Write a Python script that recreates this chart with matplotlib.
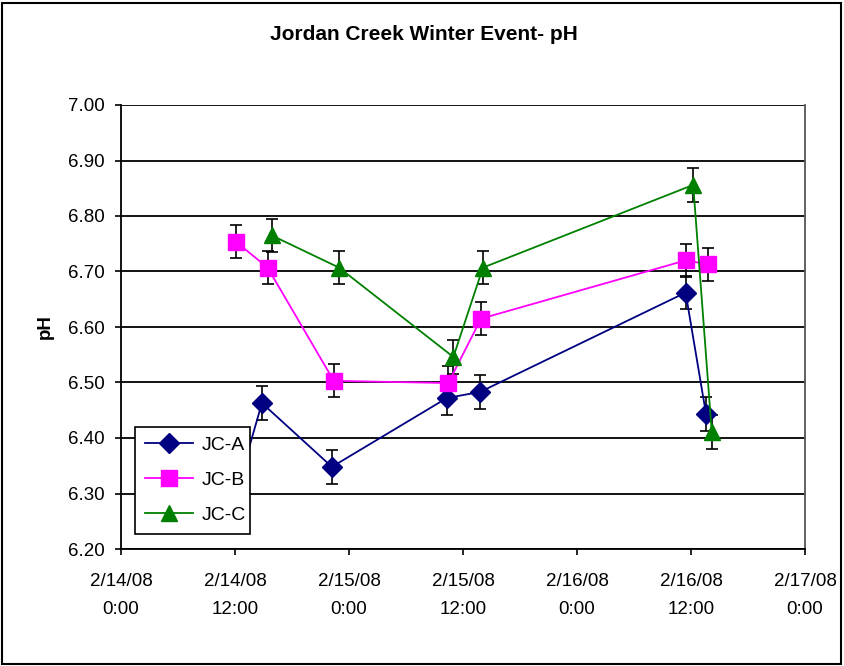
import matplotlib
matplotlib.use("Agg")
import matplotlib.pyplot as plt
import matplotlib.dates as mdates
from matplotlib.patches import Rectangle
from matplotlib.ticker import FuncFormatter, MultipleLocator
import pandas as pd

plt.rcParams['font.family'] = ['Liberation Sans', 'DejaVu Sans']

title = "Jordan Creek Winter Event- pH"
y_label = "pH"

times_a = ["2008-02-14 12:06", "2008-02-14 14:50", "2008-02-14 22:12", "2008-02-15 10:18",
           "2008-02-15 13:48", "2008-02-16 11:26", "2008-02-16 13:35"]
ph_a = [6.30, 6.463, 6.348, 6.472, 6.483, 6.662, 6.443]
err_a = [0.03, 0.03, 0.03, 0.03, 0.03, 0.03, 0.03]

times_b = ["2008-02-14 12:04", "2008-02-14 15:26", "2008-02-14 22:24", "2008-02-15 10:27",
           "2008-02-15 13:54", "2008-02-16 11:26", "2008-02-16 13:49"]
ph_b = [6.754, 6.707, 6.503, 6.499, 6.615, 6.720, 6.713]
err_b = [0.03, 0.03, 0.03, 0.03, 0.03, 0.03, 0.03]

times_c = ["2008-02-14 15:52", "2008-02-14 22:57", "2008-02-15 10:59",
           "2008-02-15 14:06", "2008-02-16 12:14", "2008-02-16 14:11"]
ph_c = [6.765, 6.707, 6.546, 6.707, 6.856, 6.411]
err_c = [0.03, 0.03, 0.03, 0.03, 0.03, 0.03]

x_start = "2008-02-14 00:00"
x_end = "2008-02-17 00:00"

fig = plt.figure(figsize=(8.44, 6.66), dpi=100)
ax = fig.add_axes([121/844, 1-549/666, 684/844, 444/666])

series = [
    ("JC-A", times_a, ph_a, err_a, "#000080", "D", 10.5),
    ("JC-B", times_b, ph_b, err_b, "#FF00FF", "s", 12),
    ("JC-C", times_c, ph_c, err_c, "#008000", "^", 12),
]
for name, t, v, e, col, mk, ms in series:
    x = pd.to_datetime(t)
    ax.errorbar(x, v, yerr=e, fmt='none', ecolor='black', elinewidth=1.2,
                capsize=4.5, capthick=1.2, zorder=3)
    ax.plot(x, v, color=col, marker=mk, markersize=ms, linewidth=1.3,
            markeredgecolor=col, label=name, zorder=4)

ax.set_xlim(pd.Timestamp(x_start), pd.Timestamp(x_end))
ax.set_ylim(6.2, 7.0)
ax.yaxis.set_major_locator(MultipleLocator(0.1))
ax.yaxis.set_major_formatter(FuncFormatter(lambda v, p: f"{v:.2f}"))

# date line as major labels, time line as minor labels at the same positions
ax.xaxis.set_major_locator(mdates.HourLocator(byhour=[0, 12]))
ax.xaxis.set_minor_locator(mdates.HourLocator(byhour=[0, 12]))
ax.xaxis.remove_overlapping_locs = False

def fmt_day(v, p):
    d = mdates.num2date(v)
    return f"{d.month}/{d.day}/{d.strftime('%y')}"

def fmt_time(v, p):
    d = mdates.num2date(v)
    return f"{d.hour}:{d.minute:02d}"

ax.xaxis.set_major_formatter(FuncFormatter(fmt_day))
ax.xaxis.set_minor_formatter(FuncFormatter(fmt_time))

ax.grid(axis='y', color='black', linewidth=1.3, zorder=0)
ax.set_axisbelow(True)
for s in ['left', 'bottom']:
    ax.spines[s].set_color('black')
    ax.spines[s].set_linewidth(1.3)
ax.spines['top'].set_visible(False)
ax.spines['right'].set_color('#555555')
ax.spines['right'].set_linewidth(1.3)

ax.tick_params(axis='both', which='major', direction='out', length=4.5, width=1.2,
               labelsize=13.5, color='black')
ax.tick_params(axis='y', pad=7)
ax.tick_params(axis='x', which='major', pad=12.5)
ax.tick_params(axis='x', which='minor', length=0, labelsize=13.5, pad=37.5)

fig.text(0.502, 1-35/666, title, ha='center', va='center', fontsize=15, fontweight='bold')
fig.text(45/844, 1-327/666, y_label, ha='center', va='center', rotation=90,
         fontsize=13.5, fontweight='bold')

leg = ax.legend(loc='lower left', bbox_to_anchor=((135-121)/684, (549-534)/444,
                (250-135)/684, (534-427)/444), mode='expand', fontsize=14,
                frameon=True, fancybox=False, edgecolor='black', framealpha=1,
                borderpad=0.5, labelspacing=0.9, handlelength=2.5, handletextpad=0.45,
                borderaxespad=0)
leg.get_frame().set_linewidth(1.2)
leg.set_zorder(10)

fig.patches.append(Rectangle((2/844, 2/666), 1-5/844, 1-5/666, transform=fig.transFigure,
                             fill=False, edgecolor='black', linewidth=1.5))

fig.savefig("out.png", dpi=100)
